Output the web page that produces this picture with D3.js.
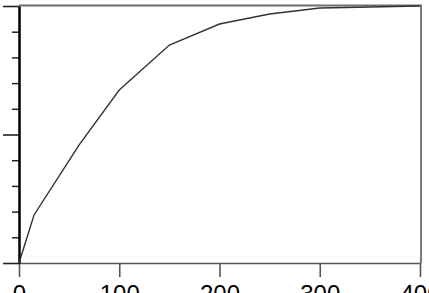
<!DOCTYPE html>
<html lang="en">
<head>
  <meta charset="UTF-8">
  <title>Curve</title>
  <script src="https://cdn.jsdelivr.net/npm/d3@7"></script>
  <style>
    body { margin: 0; background: #fff; }
    svg { display: block; }
  </style>
</head>
<body>
  <svg id="chart"></svg>
  <script>
    // data
    var xVals = [0, 15, 60, 100, 150, 200, 250, 300, 400];
    var yVals = [0, 0.187, 0.46, 0.673, 0.848, 0.93, 0.969, 0.992, 1.0];
    var xTicks = [0, 100, 200, 300, 400];
    var yMajor = [0, 0.5, 1];
    var yMinor = [0.1, 0.2, 0.3, 0.4, 0.6, 0.7, 0.8, 0.9];

    var width = 429, height = 293;
    var margin = { top: 6, right: 9, bottom: 30, left: 19 };
    var w = width - margin.left - margin.right;
    var h = 263 - margin.top;

    var svg = d3.select("#chart")
        .attr("width", width)
        .attr("height", height);

    var g = svg.append("g")
        .attr("transform", "translate(" + margin.left + "," + margin.top + ")");

    var x = d3.scaleLinear().domain([0, 400]).range([0, w]);
    var y = d3.scaleLinear().domain([0, 1]).range([h, 0]);

    // frame: top and right
    g.append("line")
        .attr("x1", 0).attr("x2", w + 1)
        .attr("y1", -0.5).attr("y2", -0.5)
        .attr("stroke", "#6e6e6e").attr("stroke-width", 2);
    g.append("line")
        .attr("x1", w + 1).attr("x2", w + 1)
        .attr("y1", -1.5).attr("y2", h)
        .attr("stroke", "#7a7a7a").attr("stroke-width", 2);

    // x axis
    var xAxis = g.append("g")
        .attr("transform", "translate(0," + h + ")")
        .call(d3.axisBottom(x).tickValues(xTicks).tickSize(14).tickPadding(8).tickSizeOuter(0));
    xAxis.select(".domain").attr("stroke", "#555").attr("stroke-width", 1.6);
    xAxis.selectAll(".tick line").attr("stroke", "#555").attr("stroke-width", 1.6);
    xAxis.selectAll("text")
        .attr("fill", "#000")
        .style("font-family", "Liberation Sans, Arial, sans-serif")
        .style("font-size", "24px");

    // left axis: minor + major ticks
    var yMin = g.append("g")
        .call(d3.axisLeft(y).tickValues(yMinor).tickSize(7).tickFormat(""));
    yMin.select(".domain").remove();
    yMin.selectAll(".tick line").attr("stroke", "#222").attr("stroke-width", 1.5);

    var yAxis = g.append("g")
        .call(d3.axisLeft(y).tickValues(yMajor).tickSize(16).tickFormat("").tickSizeOuter(0));
    yAxis.select(".domain").attr("stroke", "#000").attr("stroke-width", 2.5);
    yAxis.selectAll(".tick line").attr("stroke", "#222").attr("stroke-width", 1.6);

    // curve
    var line = d3.line()
        .x(function(d, i) { return x(xVals[i]); })
        .y(function(d) { return y(d); });

    g.append("path")
        .datum(yVals)
        .attr("d", line)
        .attr("fill", "none")
        .attr("stroke", "#333")
        .attr("stroke-width", 1.4);
  </script>
</body>
</html>
